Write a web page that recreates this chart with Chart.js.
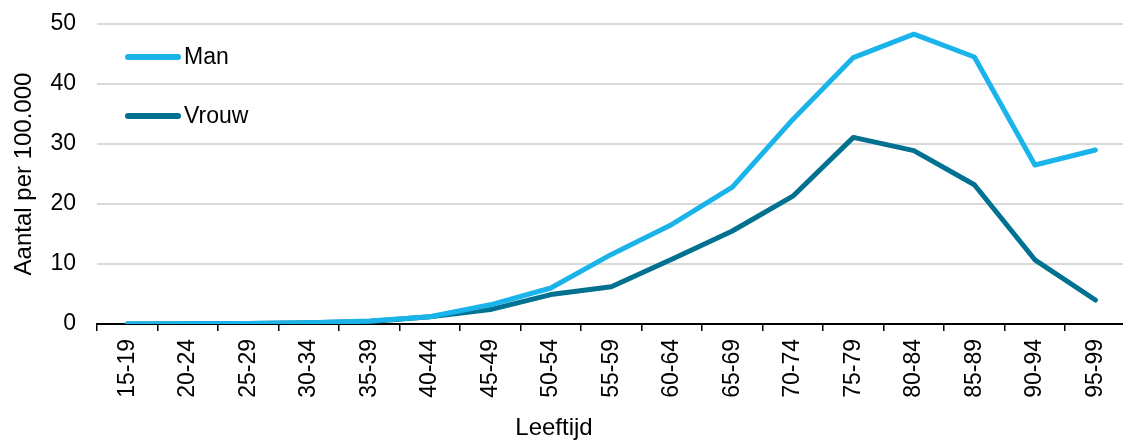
<!DOCTYPE html>
<html>
<head>
<meta charset="utf-8">
<script src="https://cdn.jsdelivr.net/npm/chart.js@4"></script>
<style>
  html, body { margin: 0; padding: 0; background: #fff; overflow: hidden; }
  #wrap { width: 1131px; height: 441px; position: relative; }
</style>
</head>
<body>
<div id="wrap"><canvas id="Chart__Canvas"></canvas></div>
<script>
const ageGroups = ["15-19", "20-24", "25-29", "30-34", "35-39", "40-44", "45-49", "50-54", "55-59",
  "60-64", "65-69", "70-74", "75-79", "80-84", "85-89", "90-94", "95-99"];
const manValues = [0.02, 0.05, 0.1, 0.2, 0.5, 1.2, 3.2, 6.0, 11.6, 16.6, 22.8, 34.1, 44.4, 48.3, 44.5, 26.5, 29.0];
const vrouwValues = [0.02, 0.04, 0.08, 0.2, 0.4, 1.2, 2.4, 4.9, 6.2, 10.8, 15.5, 21.3, 31.1, 28.9, 23.2, 10.7, 4.0];
const yTicks = [0, 10, 20, 30, 40, 50];

const fontFamily = "'Liberation Sans', Arial, sans-serif";

// legend drawn inside the plot, top left, stacked
const insideLegend = {
  id: "insideLegend",
  afterDraw(chart) {
    const ctx = chart.ctx;
    const area = chart.chartArea;
    ctx.save();
    chart.data.datasets.forEach((ds, i) => {
      const y = area.top + 33 + i * 59;
      ctx.strokeStyle = ds.borderColor;
      ctx.lineWidth = 6;
      ctx.lineCap = "round";
      ctx.beginPath();
      ctx.moveTo(area.left + 31, y);
      ctx.lineTo(area.left + 81, y);
      ctx.stroke();
      ctx.fillStyle = "#000";
      ctx.font = "23px " + fontFamily;
      ctx.textAlign = "left";
      ctx.textBaseline = "middle";
      ctx.fillText(ds.label, area.left + 87, y + 1);
    });
    // x axis title
    ctx.font = "24px " + fontFamily;
    ctx.textAlign = "center";
    ctx.textBaseline = "middle";
    ctx.fillText("Leeftijd", 554, 428);
    ctx.restore();
  },
};

const lineCanvas = document.getElementById("Chart__Canvas");
const lineChart = new Chart(lineCanvas, {
  type: "line",
  data: {
    labels: ageGroups,
    datasets: [
      {
        label: "Man",
        data: manValues,
        borderColor: "#1bb4ea",
        backgroundColor: "#1bb4ea",
        borderWidth: 5,
        pointRadius: 0,
        borderCapStyle: "round",
        borderJoinStyle: "round",
        tension: 0,
      },
      {
        label: "Vrouw",
        data: vrouwValues,
        borderColor: "#007190",
        backgroundColor: "#007190",
        borderWidth: 5,
        pointRadius: 0,
        borderCapStyle: "round",
        borderJoinStyle: "round",
        tension: 0,
      },
    ],
  },
  options: {
    responsive: true,
    maintainAspectRatio: false,
    devicePixelRatio: 1,
    animation: false,
    layout: { padding: { top: 24, left: 0, right: 0, bottom: 0 } },
    plugins: {
      legend: { display: false },
      tooltip: { enabled: false },
    },
    scales: {
      x: {
        offset: true,
        grid: {
          offset: true,
          drawOnChartArea: false,
          drawTicks: true,
          tickLength: 7,
          color: "#000",
          lineWidth: 1.5,
        },
        border: { display: true, color: "#000", width: 2 },
        ticks: {
          color: "#000",
          font: { family: fontFamily, size: 23 },
          minRotation: 90,
          maxRotation: 90,
          padding: 8,
          autoSkip: false,
        },
        afterFit(scale) {
          scale.height = 117;
        },
      },
      y: {
        min: 0,
        max: 50,
        afterBuildTicks(scale) {
          scale.ticks = yTicks.map((v) => ({ value: v }));
        },
        grid: {
          color: "#d9d9d9",
          lineWidth: 2,
          drawTicks: false,
        },
        border: { display: false },
        ticks: {
          color: "#000",
          font: { family: fontFamily, size: 23 },
          padding: 21,
        },
        title: {
          display: true,
          text: "Aantal per 100.000",
          color: "#000",
          font: { family: fontFamily, size: 24 },
          padding: { top: 10, bottom: 0 },
        },
        afterFit(scale) {
          scale.width = 97;
          scale.paddingTop = 0;
          scale.paddingBottom = 0;
        },
      },
    },
  },
  plugins: [insideLegend],
});
</script>
</body>
</html>
